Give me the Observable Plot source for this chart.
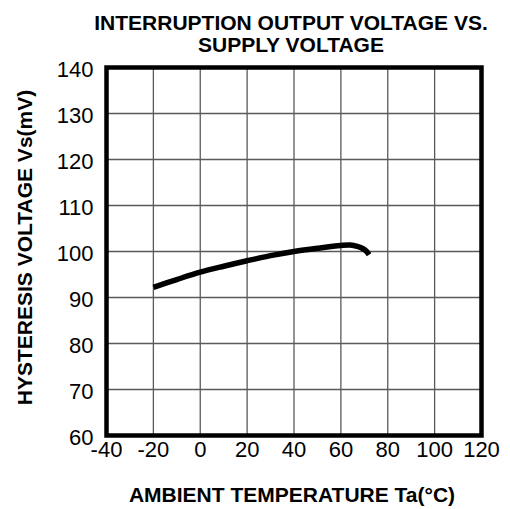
<!DOCTYPE html>
<html>
<head>
<meta charset="utf-8">
<script src="https://cdn.jsdelivr.net/npm/d3@7"></script>
<script src="https://cdn.jsdelivr.net/npm/@observablehq/plot@0.6"></script>
<style>
  html, body { margin: 0; padding: 0; background: #fff; }
</style>
</head>
<body>
<div id="chart"></div>
<script>
const temperature = [-20, -10, 0, 10, 20, 30, 40, 50, 60, 64, 67, 69.5, 71, 72];
const hysteresis  = [92.2, 93.9, 95.5, 96.8, 98.0, 99.1, 100.0, 100.7, 101.3, 101.4, 101.1, 100.6, 100.0, 99.3];
const xTicks = [-40, -20, 0, 20, 40, 60, 80, 100, 120];
const yTicks = [60, 70, 80, 90, 100, 110, 120, 130, 140];
const titleLines = ["INTERRUPTION OUTPUT VOLTAGE VS.", "SUPPLY VOLTAGE"];
const xLabel = "AMBIENT TEMPERATURE Ta(°C)";
const yLabel = "HYSTERESIS VOLTAGE Vs(mV)";

const data = temperature.map((t, i) => ({t, v: hysteresis[i]}));
const font = "Liberation Sans, Arial, Helvetica, sans-serif";

const chart = Plot.plot({
  width: 510,
  height: 509,
  marginLeft: 106,
  marginRight: 29,
  marginTop: 67,
  marginBottom: 74,
  style: {fontFamily: font, background: "#fff", color: "#000"},
  x: {domain: [-40, 120]},
  y: {domain: [60, 140]},
  marks: [
    Plot.ruleX(xTicks.slice(1, -1), {stroke: "#5a5a5a", strokeWidth: 1.3}),
    Plot.ruleY(yTicks.slice(1, -1), {stroke: "#5a5a5a", strokeWidth: 1.3}),
    Plot.line(data, {x: "t", y: "v", curve: "catmull-rom", stroke: "#000", strokeWidth: 5.5, strokeLinecap: "butt"}),
    Plot.frame({stroke: "#000", strokeWidth: 4.5}),
    Plot.axisX({ticks: xTicks, tickSize: 0, tickPadding: 6, fontSize: 22, label: null, tickFormat: d => String(d)}),
    Plot.axisY({ticks: yTicks, tickSize: 0, tickPadding: 13, fontSize: 22, dy: 2, label: null, tickFormat: d => String(d)}),
    Plot.text([titleLines[0]], {text: d => d, frameAnchor: "top", dy: -44, dx: -3, fontSize: 21, fontWeight: "bold", lineAnchor: "middle"}),
    Plot.text([titleLines[1]], {text: d => d, frameAnchor: "top", dy: -22, dx: -3, fontSize: 21, fontWeight: "bold", lineAnchor: "middle"}),
    Plot.text([xLabel], {text: d => d, frameAnchor: "bottom", dy: 60, dx: -2, fontSize: 21, fontWeight: "bold", lineAnchor: "middle"}),
    Plot.text([yLabel], {text: d => d, frameAnchor: "left", dx: -81, dy: -4, rotate: -90, textAnchor: "middle", fontSize: 21, fontWeight: "bold", lineAnchor: "middle"})
  ]
});
document.getElementById("chart").appendChild(chart);
</script>
</body>
</html>
